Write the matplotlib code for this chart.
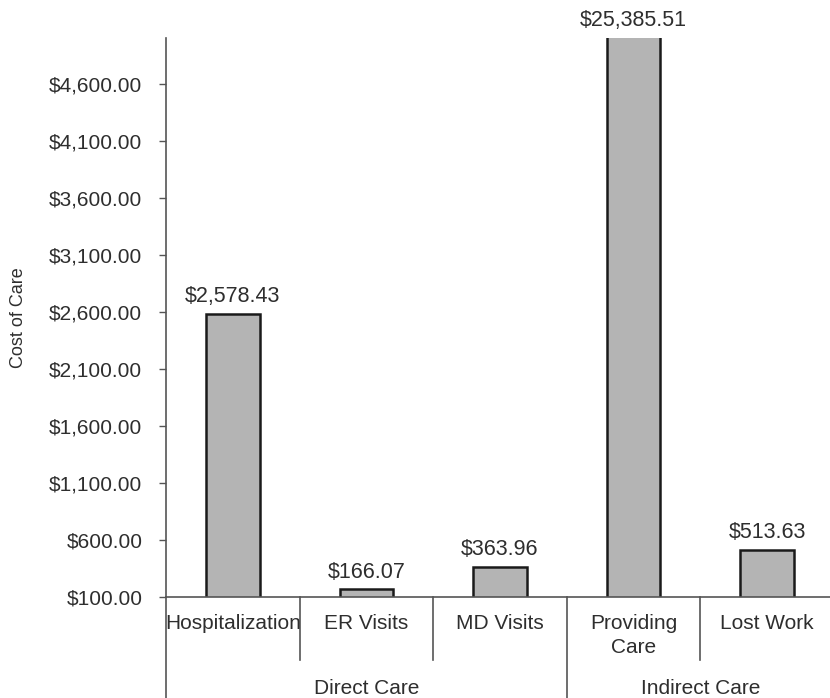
import matplotlib
matplotlib.use('Agg')
import matplotlib.pyplot as plt

plt.rcParams['font.family'] = ['Liberation Sans', 'DejaVu Sans']

categories = ['Hospitalization', 'ER Visits', 'MD Visits', 'Providing\nCare', 'Lost Work']
costs = [2578.43, 166.07, 363.96, 25385.51, 513.63]
groups = ['Direct Care', 'Indirect Care']
group_spans = [(0, 2), (3, 4)]
yticks = [100, 600, 1100, 1600, 2100, 2600, 3100, 3600, 4100, 4600]
ymin, ymax = 100, 5000

txt = '#2e2e2e'

fig = plt.figure(figsize=(8.3, 6.98), dpi=100)
ax = fig.add_axes([166 / 830, 101 / 698, 668 / 830, 559 / 698])

x = list(range(len(categories)))
ax.bar(x, costs, width=0.4, color='#b4b4b4', edgecolor='#1a1a1a', linewidth=1.8, zorder=2)
ax.set_xlim(-0.5, len(categories) - 0.5)
ax.set_ylim(ymin, ymax)

ax.set_yticks(yticks)
ax.set_yticklabels(['${:,.2f}'.format(v) for v in yticks])
ax.tick_params(axis='y', direction='out', length=5, width=1, colors='#555555',
               labelcolor=txt, labelsize=15, pad=12)
ax.set_xticks([])
ax.set_ylabel('Cost of Care', fontsize=13, color=txt, labelpad=16)

for s in ['top', 'right']:
    ax.spines[s].set_visible(False)
for s in ['left', 'bottom']:
    ax.spines[s].set_color('#555555')
    ax.spines[s].set_linewidth(1.2)

# value labels, the tall bar gets its label above the clipped top
for xi, v in zip(x, costs):
    top = min(v, ymax)
    ax.annotate('${:,.2f}'.format(v), (xi, top), xytext=(0, 5), textcoords='offset points',
                ha='center', va='bottom', fontsize=15.5, color=txt, annotation_clip=False)

trans = ax.get_xaxis_transform()
for xi, lab in zip(x, categories):
    ax.text(xi, -0.03, lab, transform=trans, ha='center', va='top', fontsize=15,
            color=txt, linespacing=1.35)

# separators between categories and between groups
for b in [0.5, 1.5, 3.5]:
    ax.plot([b, b], [0, -0.113], transform=trans, color='#555555', lw=1.2, clip_on=False)
for b in [-0.5, 2.5]:
    ax.plot([b, b], [0, -0.2], transform=trans, color='#555555', lw=1.2, clip_on=False)

for g, (a, b) in zip(groups, group_spans):
    ax.text((a + b) / 2, -0.163, g, transform=trans, ha='center', va='center',
            fontsize=15, color=txt)

fig.savefig('out.png', dpi=100)
